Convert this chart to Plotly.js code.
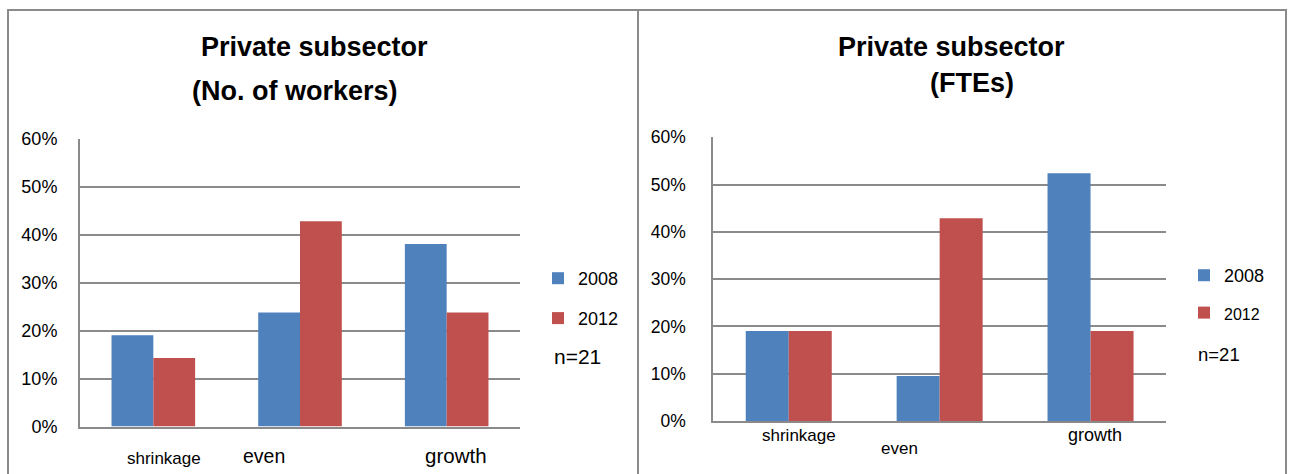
<!DOCTYPE html>
<html>
<head>
<meta charset="utf-8">
<script src="https://cdn.plot.ly/plotly-3.0.1.min.js"></script>
<style>html,body{margin:0;padding:0;background:#fff;}#chart{width:1290px;height:474px;}</style>
</head>
<body>
<div id="chart"></div>
<script>
// ---- data ----
const categories = ["shrinkage", "even", "growth"];
const seriesNames = ["2008", "2012"];
const workers2008 = [0.1905, 0.2381, 0.3810];
const workers2012 = [0.1429, 0.4286, 0.2381];
const ftes2008 = [0.1905, 0.0952, 0.5238];
const ftes2012 = [0.1905, 0.4286, 0.1905];
const yTicks = [0, 0.1, 0.2, 0.3, 0.4, 0.5, 0.6];
const leftTitle = ["Private subsector", "(No. of workers)"];
const rightTitle = ["Private subsector", "(FTEs)"];
const noteText = "n=21";

// ---- style ----
const W = 1290, H = 474;
const BLUE = "#4F81BD", RED = "#C0504D", GRID = "#8a8a8a";
const FONT = "Liberation Sans, Arial, sans-serif";
const px = v => v / W;
const py = v => 1 - v / H;

const traces = [
  {type: "bar", x: categories, y: workers2008, name: seriesNames[0], marker: {color: BLUE}, xaxis: "x", yaxis: "y", legend: "legend", legendgroup: "a1", hoverinfo: "y"},
  {type: "bar", x: categories, y: workers2012, name: seriesNames[1], marker: {color: RED}, xaxis: "x", yaxis: "y", legend: "legend", legendgroup: "a2", hoverinfo: "y"},
  {type: "bar", x: categories, y: ftes2008, name: seriesNames[0], marker: {color: BLUE}, xaxis: "x2", yaxis: "y2", legend: "legend2", legendgroup: "b1", hoverinfo: "y"},
  {type: "bar", x: categories, y: ftes2012, name: '<span style="font-size:16px">' + seriesNames[1] + '</span>', marker: {color: RED}, xaxis: "x2", yaxis: "y2", legend: "legend2", legendgroup: "b2", hoverinfo: "y"}
];

function yAxis(domain, size, standoff, anchor) {
  return {
    domain: domain, anchor: anchor, range: [0, 0.6], tickvals: yTicks, tickformat: ".0%",
    showgrid: true, gridcolor: GRID, gridwidth: 2, zeroline: false,
    showline: true, linecolor: GRID, linewidth: 2, ticks: "",
    ticklabelstandoff: standoff, tickfont: {family: FONT, size: size, color: "#000"},
    fixedrange: true
  };
}
function xAxis(domain, anchor) {
  return {
    domain: domain, anchor: anchor, showticklabels: false, showgrid: false, zeroline: false,
    showline: true, linecolor: GRID, linewidth: 2, ticks: "", fixedrange: true
  };
}

function ann(text, x, y, size, opts) {
  return Object.assign({text: text, x: x, y: y, xref: "paper", yref: "paper", showarrow: false,
    xanchor: "center", yanchor: "middle", font: {family: FONT, size: size, color: "#000"}}, opts || {});
}

const annotations = [
  ann("<b>" + leftTitle[0] + "</b>", px(314), py(47.5), 27),
  ann("<b>" + leftTitle[1] + "</b>", px(295), py(90.5), 27),
  ann("<b>" + rightTitle[0] + "</b>", px(951.5), py(47.5), 27),
  ann("<b>" + rightTitle[1] + "</b>", px(971.5), py(82.5), 27),
  // category labels (offset as in the original)
  ann(categories[0], categories[0], py(458), 17, {xref: "x", xshift: 10.5}),
  ann(categories[1], categories[1], py(455.5), 19.5, {xref: "x", xshift: -36.3}),
  ann(categories[2], categories[2], py(455.5), 20.5, {xref: "x", xshift: 9}),
  ann(categories[0], categories[0], py(435), 17, {xref: "x2", xshift: 10.4}),
  ann(categories[1], categories[1], py(448), 17, {xref: "x2", xshift: -40.6}),
  ann(categories[2], categories[2], py(435), 18, {xref: "x2", xshift: 4}),
  ann(noteText, px(552), py(356.7), 21, {xanchor: "left"}),
  ann(noteText, px(1196), py(354), 18.5, {xanchor: "left"})
];

const shapes = [
  {type: "rect", xref: "paper", yref: "paper", x0: px(8), x1: px(638), y0: -0.2, y1: py(10), line: {color: GRID, width: 2}, layer: "below"},
  {type: "rect", xref: "paper", yref: "paper", x0: px(638), x1: px(1286), y0: -0.2, y1: py(10), line: {color: GRID, width: 2}, layer: "below"}
];

const legendBase = {xref: "paper", yref: "paper", xanchor: "left", yanchor: "top", traceorder: "grouped",
  tracegroupgap: 13.5, font: {family: FONT, size: 18, color: "#000"}, bgcolor: "rgba(0,0,0,0)", borderwidth: 0};

const layout = {
  width: W, height: H, margin: {l: 0, r: 0, t: 0, b: 0},
  paper_bgcolor: "#fff", plot_bgcolor: "rgba(0,0,0,0)",
  showlegend: true, barmode: "group", bargap: 0.43, bargroupgap: 0,
  xaxis: xAxis([px(80), px(520)], "y"),
  yaxis: yAxis([1 - 426.5 / H, 1 - 139 / H], 18, 17, "x"),
  xaxis2: xAxis([px(713.3), px(1166)], "y2"),
  yaxis2: yAxis([1 - 421 / H, 1 - 137.3 / H], 17.5, 22, "x2"),
  legend: Object.assign({}, legendBase, {x: px(538), y: py(260)}),
  legend2: Object.assign({}, legendBase, {x: px(1184), y: py(257), tracegroupgap: 11}),
  annotations: annotations,
  shapes: shapes
};

Plotly.newPlot("chart", traces, layout, {displayModeBar: false, staticPlot: true});
</script>
</body>
</html>
